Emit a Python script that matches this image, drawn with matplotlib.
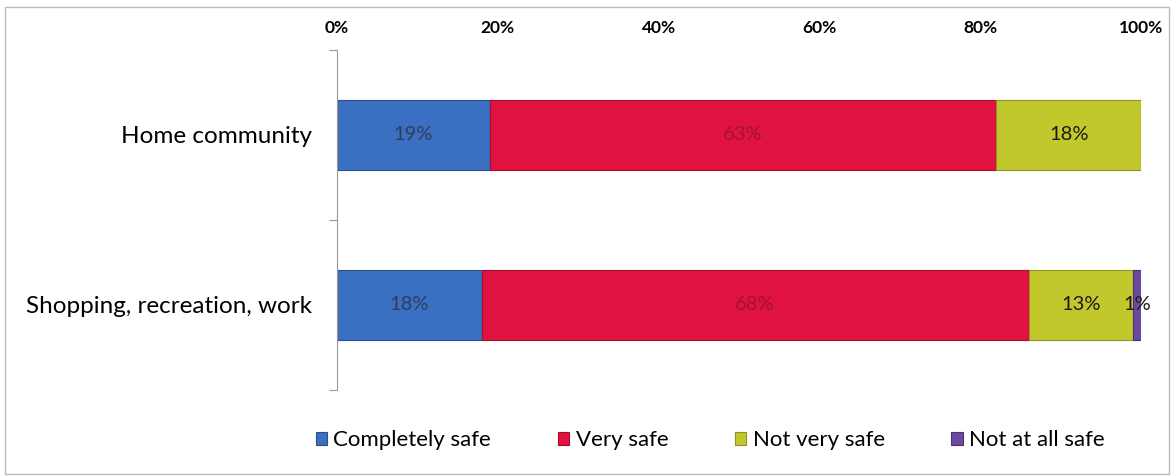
import numpy as np
import matplotlib.pyplot as plt
from matplotlib.patches import Rectangle

plt.rcParams['font.family'] = ['Lato', 'DejaVu Sans']

categories = ["Home community", "Shopping, recreation, work"]
series = ["Completely safe", "Very safe", "Not very safe", "Not at all safe"]
values = [
    [19, 18],   # Completely safe
    [63, 68],   # Very safe
    [18, 13],   # Not very safe
    [0, 1],     # Not at all safe
]
colors = ["#3B6FC2", "#E0123F", "#C2C82B", "#6B4A9E"]
edges = ["#2B4F8C", "#A80D2E", "#8E9220", "#4A3370"]
label_colors = ["#2E3D5E", "#A3142F", "#1A1A1A", "#1A1A1A"]

fig = plt.figure(figsize=(11.74, 4.76), dpi=100)
ax = fig.add_axes([0.287, 0.181, 0.685, 0.714])

y = np.arange(len(categories))
left = np.zeros(len(categories))
for name, vals, c, ec, lc in zip(series, values, colors, edges, label_colors):
    vals = np.array(vals, dtype=float)
    ax.barh(y, vals, left=left, height=0.41, color=c, edgecolor=ec,
            linewidth=0.8, label=name)
    for yi, v, l in zip(y, vals, left):
        if v > 0:
            ax.text(l + v / 2, yi, f"{int(v)}%", ha="center", va="center",
                    fontsize=14.5, color=lc)
    left += vals

ax.set_xlim(0, 100)
ax.set_ylim(1.5, -0.5)
ax.xaxis.tick_top()
ax.set_xticks(np.arange(0, 101, 20))
ax.set_xticklabels([f"{t}%" for t in range(0, 101, 20)], fontsize=12.5, fontweight="bold")
ax.tick_params(axis="x", length=0, pad=10)

ax.set_yticks([-0.5, 0.5, 1.5])
ax.set_yticklabels([])
ax.set_yticks(y, minor=True)
ax.set_yticklabels(categories, minor=True, fontsize=17.5)
ax.tick_params(axis="y", which="major", length=6, color="#999999")
ax.tick_params(axis="y", which="minor", length=0, pad=18)

for s in ["top", "right", "bottom"]:
    ax.spines[s].set_visible(False)
ax.spines["left"].set_color("#999999")

leg = fig.legend(loc="center", bbox_to_anchor=(0.605, 0.075), ncol=4,
                 frameon=False, fontsize=16, handlelength=0.5, handleheight=0.5,
                 handletextpad=0.3, columnspacing=3.0)

# light frame around the whole chart
fig.patches.append(Rectangle((0.004, 0.004), 0.992, 0.982, transform=fig.transFigure,
                             fill=False, edgecolor="#BBBBBB", linewidth=1))

fig.savefig("out.png", dpi=100)
